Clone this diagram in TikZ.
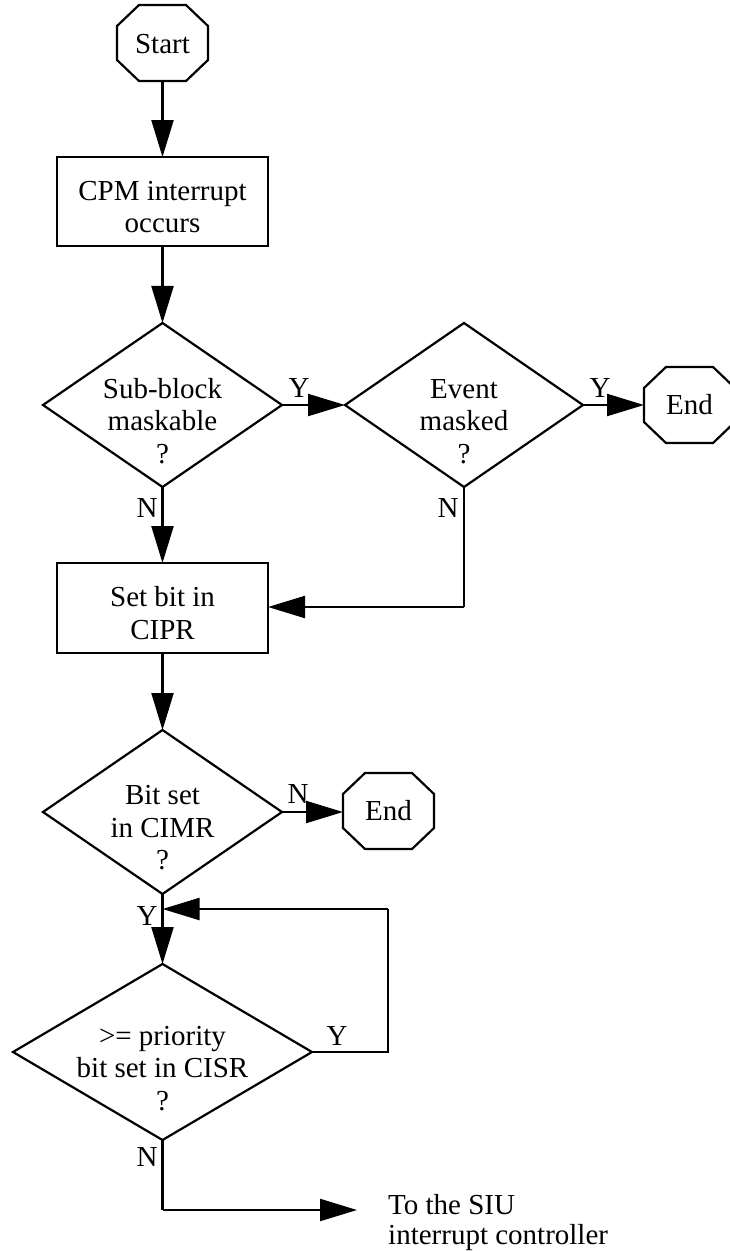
\documentclass[tikz,border=0pt]{standalone}
\usepackage{fontspec}
\setmainfont{Liberation Serif}
\usetikzlibrary{arrows.meta,shapes.geometric}
\newcommand\octodraw[1]{%
  \draw[line] ([xshift=22pt]#1.north west) -- ([xshift=-22pt]#1.north east)
    -- ([yshift=-21pt]#1.north east) -- ([yshift=21pt]#1.south east)
    -- ([xshift=-22pt]#1.south east) -- ([xshift=22pt]#1.south west)
    -- ([yshift=21pt]#1.south west) -- ([yshift=-21pt]#1.north west) -- cycle;}
\begin{document}
\begin{tikzpicture}[x=1pt,y=-1pt,
  line/.style={line width=2.2pt},
  arr/.style={line, -{Triangle[length=37pt,width=22pt]}},
  box/.style={draw, line width=2.2pt, rectangle, minimum width=211pt, inner sep=0pt, outer sep=0pt},
  dia/.style={draw, line width=2.2pt, diamond, inner sep=0pt, outer sep=0pt},
  oct/.style={rectangle, minimum width=91pt, minimum height=76pt, inner sep=0pt, outer sep=0pt},
  txt/.style={font=\fontsize{29}{32.5}\selectfont, align=center, inner sep=0pt},
  lbl/.style={font=\fontsize{29}{32.5}\selectfont, inner sep=0pt, anchor=base},
]
\useasboundingbox (0,0) rectangle (730,1251);

% shapes
\node[oct] (start) at (162.5,43) {};
\octodraw{start}
\node[txt] (tstart) at (start) {\rule{0pt}{28pt}Start\rule[-8pt]{0pt}{8pt}};

\node[box, minimum height=89pt] (cpm) at (162.5,201.5) {};
\node[txt] (tcpm) at (cpm) {\rule{0pt}{38pt}CPM interrupt\\occurs\rule[-8pt]{0pt}{8pt}};

\node[dia, minimum width=239pt, minimum height=164pt] (d1) at (162.5,405) {};
\node[txt] (td1) at (d1) {\rule{0pt}{59pt}Sub-block\\maskable\\?\rule[-8pt]{0pt}{8pt}};

\node[dia, minimum width=238pt, minimum height=164pt] (d2) at (464,405) {};
\node[txt] (td2) at (d2) {\rule{0pt}{59pt}Event\\masked\\?\rule[-8pt]{0pt}{8pt}};

\node[oct] (end1) at (689.5,405) {};
\octodraw{end1}
\node[txt] (tend1) at (end1) {\rule{0pt}{26pt}End\rule[-8pt]{0pt}{8pt}};

\node[box, minimum height=90pt] (setbit) at (162.5,608) {};
\node[txt] (tsetbit) at (setbit) {\rule{0pt}{38pt}Set bit in\\CIPR\rule[-8pt]{0pt}{8pt}};

\node[dia, minimum width=239pt, minimum height=164pt] (d3) at (162.5,812) {};
\node[txt] (td3) at (d3) {\rule{0pt}{58pt}Bit set\\in CIMR\\?\rule[-8pt]{0pt}{8pt}};

\node[oct] (end2) at (388.5,811) {};
\octodraw{end2}
\node[txt] (tend2) at (end2) {\rule{0pt}{26pt}End\rule[-8pt]{0pt}{8pt}};

\node[dia, minimum width=299pt, minimum height=176pt] (d4) at (162.5,1052) {};
\node[txt] (td4) at (d4) {\rule{0pt}{59pt}>= priority\\bit set in CISR\\?\rule[-8pt]{0pt}{8pt}};

\node[txt, align=left, anchor=north west] (siu) at (388,1187)
  {\rule{0pt}{27pt}To the SIU\\[-2.5pt]interrupt controller};

% connectors
\draw[arr] (start) -- (cpm);
\draw[arr] (cpm) -- (d1);
\draw[arr] (d1.east) -- (d2.west);
\draw[arr] (d2.east) -- (end1.west);
\draw[arr] (d1.south) -- (setbit.north);
\coordinate (c2) at (464,607);
\draw[line] (d2.south) -- (c2);
\draw[arr] (c2) -- (c2 -| setbit.east);
\draw[arr] (setbit) -- (d3);
\draw[arr] (d3.east) -- (d3.east -| end2.west);
\draw[arr] (d3.south) -- (d4.north);
\coordinate (lr) at (388,1052);
\coordinate (lt) at (388,909);
\coordinate (lj) at (162.5,909);
\draw[line] (d4.east) -- (lr) -- (lt);
\draw[arr] (lt) -- (lj);
\coordinate (bc) at (162.5,1210);
\coordinate (be) at (357,1210);
\draw[line] (d4.south) -- (bc);
\draw[arr] (bc) -- (be);

% labels
\node[lbl] (y1) at (299,397) {Y};
\node[lbl] (y2) at (600,397) {Y};
\node[lbl] (n1) at (147,517) {N};
\node[lbl] (n2) at (448,517) {N};
\node[lbl] (n3) at (298,803) {N};
\node[lbl] (y3) at (147,925) {Y};
\node[lbl] (y4) at (337,1045) {Y};
\node[lbl] (n4) at (147,1166) {N};
\end{tikzpicture}
\end{document}
